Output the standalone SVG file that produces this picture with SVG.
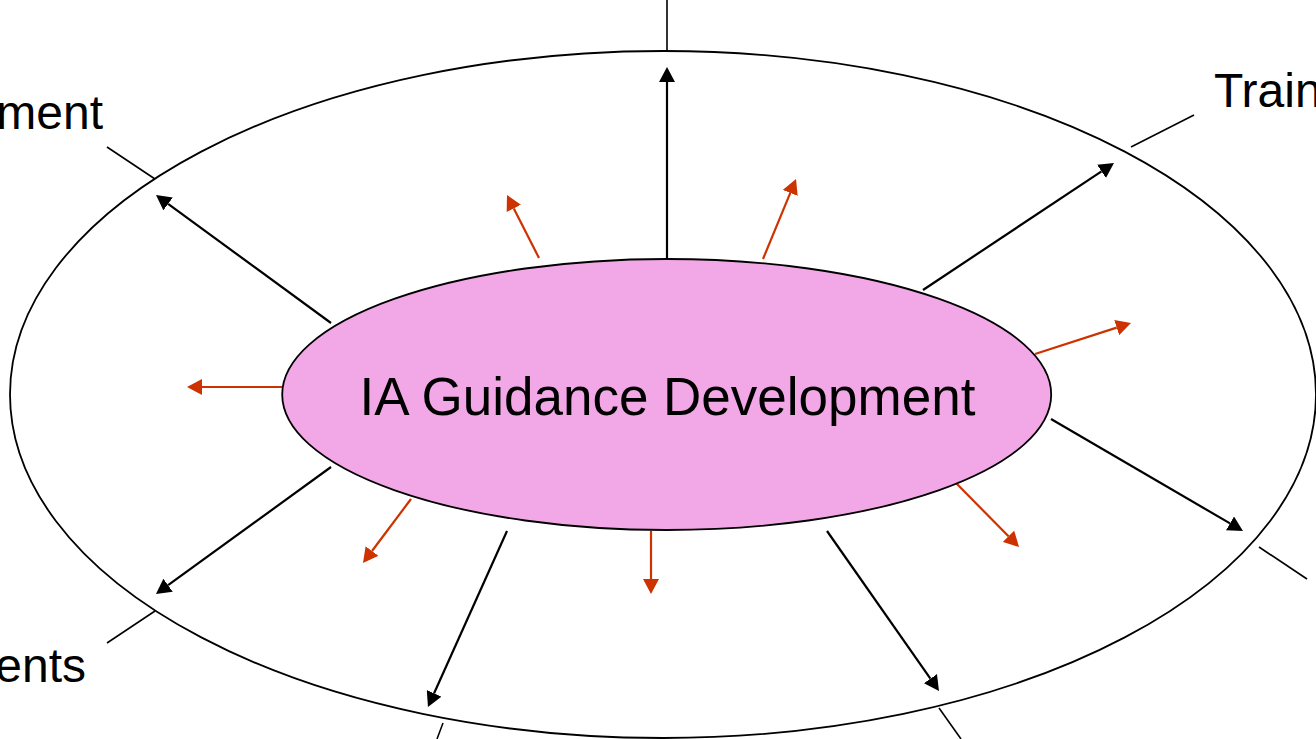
<svg xmlns="http://www.w3.org/2000/svg" width="1316" height="739" viewBox="0 0 1316 739">
  <defs>
    <style>
      .lbl { font-family: "Liberation Sans", Arial, sans-serif; font-size: 48px; fill: #000000; }
      .center { font-family: "Liberation Sans", Arial, sans-serif; font-size: 53px; fill: #000000; }
      .blk { stroke: #000000; stroke-width: 2.2; fill: none; }
      .red { stroke: #CC3300; stroke-width: 2.2; fill: none; }
      .tick { stroke: #000000; stroke-width: 1.6; fill: none; }
    </style>
    <marker id="headBlack" viewBox="0 0 15 16" markerWidth="15" markerHeight="16" refX="0" refY="8" orient="auto" markerUnits="userSpaceOnUse">
      <path d="M0,0 L15,8 L0,16 z" fill="#000000"/>
    </marker>
    <marker id="headRed" viewBox="0 0 15 16" markerWidth="15" markerHeight="16" refX="0" refY="8" orient="auto" markerUnits="userSpaceOnUse">
      <path d="M0,0 L15,8 L0,16 z" fill="#CC3300"/>
    </marker>
  </defs>
  <rect x="0" y="0" width="1316" height="739" fill="#ffffff"/>

  <g id="outer-ring">
    <ellipse cx="663" cy="394.5" rx="653" ry="343.5" fill="none" stroke="#000000" stroke-width="1.8"/>
  </g>

  <g id="label-ment">
    <line class="tick" x1="107" y1="147" x2="155" y2="179"/>
    <text class="lbl" x="103" y="129" text-anchor="end">ment</text>
  </g>
  <g id="label-top">
    <line class="tick" x1="667" y1="0" x2="667" y2="51"/>
  </g>
  <g id="label-train">
    <line class="tick" x1="1194" y1="115" x2="1131" y2="147"/>
    <text class="lbl" x="1214" y="107">Train</text>
  </g>
  <g id="label-right">
    <line class="tick" x1="1259" y1="547" x2="1307" y2="579"/>
  </g>
  <g id="label-bottom-right">
    <line class="tick" x1="939" y1="708" x2="961" y2="739"/>
  </g>
  <g id="label-bottom">
    <line class="tick" x1="443" y1="723" x2="437" y2="739"/>
  </g>
  <g id="label-ents">
    <line class="tick" x1="107" y1="643" x2="155" y2="611"/>
    <text class="lbl" x="86" y="682" text-anchor="end">ents</text>
  </g>

  <g id="connectors">
    <line class="blk" x1="331" y1="323" x2="168.1" y2="203.9" marker-end="url(#headBlack)"/>
    <line class="blk" x1="667" y1="259" x2="667" y2="82" marker-end="url(#headBlack)"/>
    <line class="blk" x1="923" y1="290" x2="1101.5" y2="171.3" marker-end="url(#headBlack)"/>
    <line class="blk" x1="1051" y1="419" x2="1230" y2="523.4" marker-end="url(#headBlack)"/>
    <line class="blk" x1="827" y1="531" x2="930.4" y2="678.7" marker-end="url(#headBlack)"/>
    <line class="blk" x1="507" y1="531" x2="434.1" y2="693.3" marker-end="url(#headBlack)"/>
    <line class="blk" x1="331" y1="467" x2="168.1" y2="585.2" marker-end="url(#headBlack)"/>

    <line class="red" x1="282" y1="387" x2="202" y2="387" marker-end="url(#headRed)"/>
    <line class="red" x1="539" y1="258" x2="513.8" y2="208.4" marker-end="url(#headRed)"/>
    <line class="red" x1="763" y1="259" x2="790.3" y2="192.9" marker-end="url(#headRed)"/>
    <line class="red" x1="1035" y1="354" x2="1116.7" y2="327.6" marker-end="url(#headRed)"/>
    <line class="red" x1="956" y1="483" x2="1008.5" y2="536.3" marker-end="url(#headRed)"/>
    <line class="red" x1="651" y1="531" x2="651" y2="579" marker-end="url(#headRed)"/>
    <line class="red" x1="411" y1="499" x2="372" y2="551" marker-end="url(#headRed)"/>
  </g>

  <g id="ia-guidance-development">
    <ellipse cx="666.7" cy="394.5" rx="384.5" ry="135.5" fill="#F2A8E6" stroke="#000000" stroke-width="1.8"/>
    <text class="center" x="667.5" y="415" text-anchor="middle">IA Guidance Development</text>
  </g>
</svg>
